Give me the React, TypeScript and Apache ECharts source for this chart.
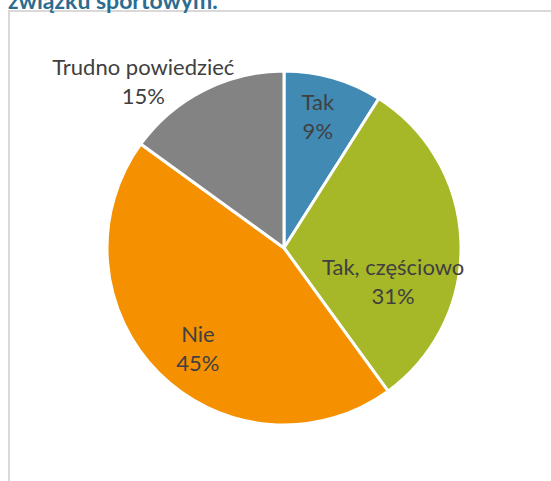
import React, { useEffect, useRef } from "react";
import * as echarts from "echarts";

const categories = ["Tak", "Tak, częściowo", "Nie", "Trudno powiedzieć"];
const values = [9, 31, 45, 15];
const colors = ["#418ab3", "#a6b727", "#f59101", "#838383"];
// label placement in polar terms (angle clockwise from 12 o'clock, distance from centre)
const labelAngles = [14.4, 106.8, 220.7, 319.8];
const labelRadii = [136, 114, 132, 218];
const titleText = "związku sportowym.";

const CX = 284;
const CY = 248;
const R = 177;
const FONT = "Lato, 'Liberation Sans', sans-serif";

export default function App() {
  const ref = useRef<HTMLDivElement>(null);
  useEffect(() => {
    if (!ref.current) return;
    const chart = echarts.init(ref.current, null, { renderer: "svg" });
    chart.setOption({
      animation: false,
      backgroundColor: "#ffffff",
      graphic: [
        {
          type: "rect",
          shape: { x: 9, y: 11, width: 700, height: 700 },
          style: { fill: "none", stroke: "#d9d9d9", lineWidth: 2 },
          z: 0,
        },
        {
          type: "text",
          left: 8,
          top: -12,
          style: {
            text: titleText,
            fill: "#2b6c90",
            font: `bold 23px ${FONT}`,
          },
          z: 10,
        },
      ],
      series: [
        {
          type: "pie",
          center: [CX, CY],
          radius: [0, R],
          startAngle: 90,
          clockwise: true,
          itemStyle: { borderColor: "#ffffff", borderWidth: 3 },
          label: {
            show: true,
            position: "inside",
            formatter: "{b}\n{c}%",
            color: "#404040",
            fontSize: 22,
            lineHeight: 29,
            fontFamily: FONT,
            align: "center",
            verticalAlign: "middle",
          },
          labelLine: { show: false },
          labelLayout: (p: any) => {
            const i = p.dataIndex;
            const a = (labelAngles[i] * Math.PI) / 180;
            return {
              x: CX + labelRadii[i] * Math.sin(a),
              y: CY - labelRadii[i] * Math.cos(a),
              align: "center",
              verticalAlign: "middle",
            };
          },
          data: categories.map((name, i) => ({
            name,
            value: values[i],
            itemStyle: { color: colors[i] },
          })),
        },
      ],
    });
    return () => chart.dispose();
  }, []);
  return (
    <div
      ref={ref}
      style={{ position: "fixed", left: 0, top: 0, width: 551, height: 481 }}
    />
  );
}
